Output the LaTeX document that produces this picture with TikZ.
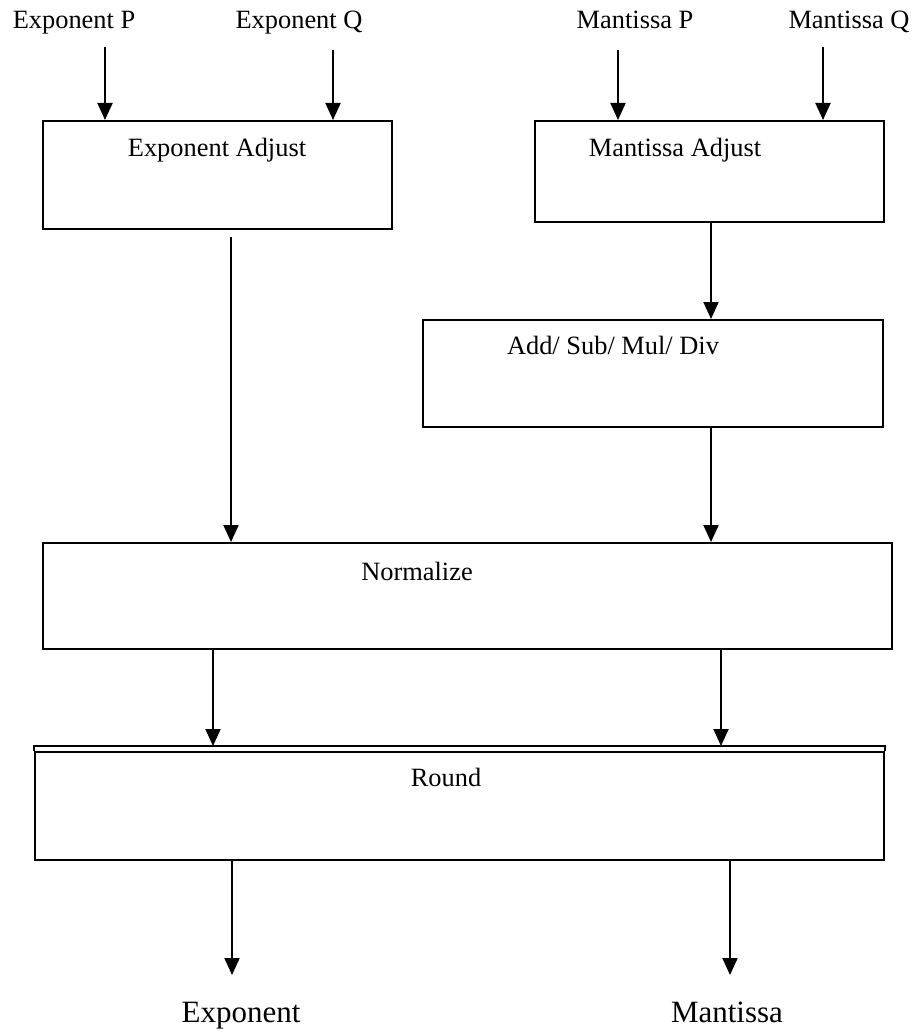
\documentclass[tikz,border=0pt]{standalone}
\usepackage{fontspec}
\setmainfont{Liberation Serif}
\usetikzlibrary{fit, positioning, arrows.meta}

\begin{document}
\begin{tikzpicture}[x=0.5pt, y=-0.5pt,
    blk/.style={draw, line width=1pt, inner sep=0pt},
    lbl/.style={font=\fontsize{13.2}{16}\selectfont, anchor=base, inner sep=0pt},
    outlbl/.style={font=\fontsize{15.5}{18}\selectfont, anchor=base, inner sep=0pt},
    flow/.style={-{Triangle[length=8.5pt, width=7.5pt]}, line width=1pt}]
    \useasboundingbox (0,0) rectangle (912,1032);

    % blocks
    \node[blk, fit={(43,121) (392,229)}] (expadj) {};
    \node[blk, fit={(535,121) (884,222)}] (manadj) {};
    \node[blk, fit={(423,320) (883,427)}] (arith) {};
    \node[blk, fit={(43,543) (892,649)}] (norm) {};
    \node[blk, fit={(35,752) (884,860)}] (round) {};
    \draw[line width=0.6pt] (round.north west) -- ++(0,-5) coordinate (roundtop) -| (round.north east);

    % block texts
    \node[lbl] (expadjtxt) at (217,157) {Exponent Adjust};
    \node[lbl] (manadjtxt) at (675,157) {Mantissa Adjust};
    \node[lbl] (arithtxt) at (613,354) {Add/ Sub/ Mul/ Div};
    \node[lbl] (normtxt) at (417,580) {Normalize};
    \node[lbl] (roundtxt) at (446,786) {Round};

    % inputs
    \node[lbl] (expP) at (74,29) {Exponent P};
    \node[lbl] (expQ) at (299,29) {Exponent Q};
    \node[lbl] (manP) at (635,29) {Mantissa P};
    \node[lbl] (manQ) at (849,29) {Mantissa Q};
    \coordinate (expPs) at (105,47);
    \coordinate (expQs) at (333,50);
    \coordinate (manPs) at (618,50);
    \coordinate (manQs) at (823,47);
    \draw[flow] (expPs) -- (expPs |- expadj.north);
    \draw[flow] (expQs) -- (expQs |- expadj.north);
    \draw[flow] (manPs) -- (manPs |- manadj.north);
    \draw[flow] (manQs) -- (manQs |- manadj.north);

    % inner connections
    \coordinate (expdown) at (231,237);
    \coordinate (mandown) at (711,0);
    \coordinate (normL) at (213,0);
    \coordinate (normR) at (721,0);
    \draw[flow] (mandown |- manadj.south) -- (mandown |- arith.north);
    \draw[flow] (expdown) -- (expdown |- norm.north);
    \draw[flow] (mandown |- arith.south) -- (mandown |- norm.north);
    \draw[flow] (normL |- norm.south) -- (normL |- roundtop);
    \draw[flow] (normR |- norm.south) -- (normR |- roundtop);

    % outputs
    \node[outlbl] (expout) at (241,1022) {Exponent};
    \node[outlbl] (manout) at (727,1022) {Mantissa};
    \coordinate (expend) at (232,975);
    \coordinate (manend) at (730,975);
    \draw[flow] (expend |- round.south) -- (expend);
    \draw[flow] (manend |- round.south) -- (manend);
\end{tikzpicture}
\end{document}
